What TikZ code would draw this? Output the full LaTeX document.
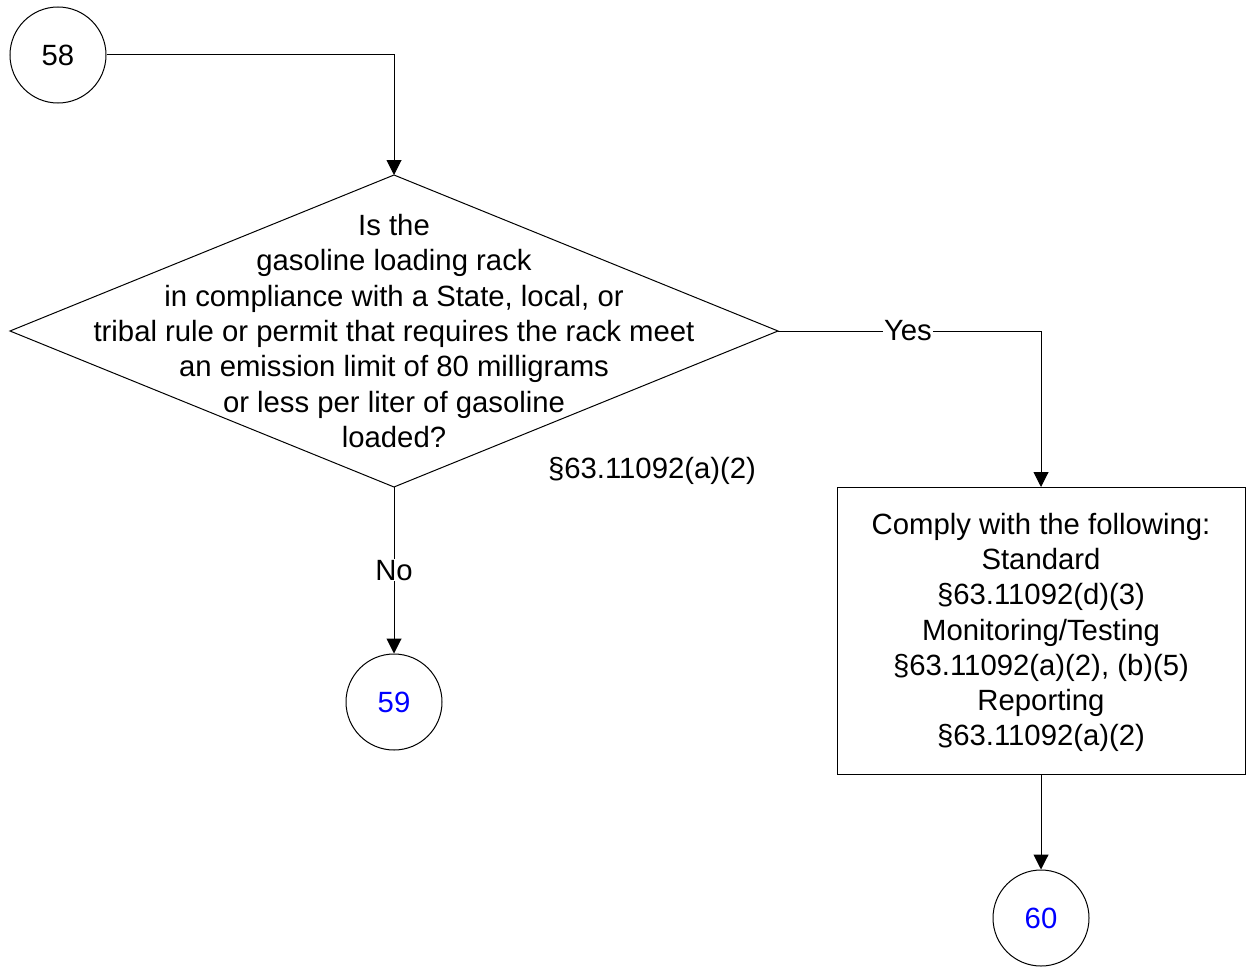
\documentclass[tikz,border=0pt]{standalone}
\usepackage{fontspec}
\setmainfont{Liberation Sans}
\usetikzlibrary{shapes.geometric,arrows.meta}
\begin{document}
\begin{tikzpicture}[x=1pt,y=-1pt,
  every node/.style={font=\fontsize{29.3}{35.3}\selectfont},
  conn/.style={draw, line width=1pt, -{Triangle[length=15pt,width=15pt]}},
  circ/.style={circle, draw, minimum size=96pt, inner sep=0pt, line width=1pt},
  lbl/.style={fill=white, inner sep=1pt},
  txt/.style={align=center, inner sep=0pt}
 ]
\useasboundingbox (0,0) rectangle (1246,966);
\node[circ] (c58) at (58,55) {58};
\node[diamond, draw, line width=1pt, minimum width=768pt, minimum height=312pt, inner sep=0pt, outer sep=0pt] (d) at (394,331) {};
\node[txt] (dt) at (d.center) {Is the\\gasoline loading rack\\in compliance with a State, local, or\\tribal rule or permit that requires the rack meet\\an emission limit of 80 milligrams\\or less per liter of gasoline\\loaded?};
\node (ref) at (652,471) {§63.11092(a)(2)};
\node[draw, line width=1pt, minimum width=408pt, minimum height=287pt, inner sep=0pt, outer sep=0pt] (box) at (1041,630.5) {};
\node[txt] (bt) at ([yshift=-2pt]box.center) {Comply with the following:\\Standard\\§63.11092(d)(3)\\Monitoring/Testing\\§63.11092(a)(2), (b)(5)\\Reporting\\§63.11092(a)(2)};
\node[circ, text=blue] (c59) at (394,702) {59};
\node[circ, text=blue] (c60) at (1041,918) {60};
\draw[conn] (c58.east) -| (d.north);
\draw[conn] (d.east) -| node[pos=0.247, lbl] {Yes} (box.north);
\draw[conn] (d.south) -- node[lbl] {No} (c59.north);
\draw[conn] (box.south) -- (c60.north);
\end{tikzpicture}
\end{document}
